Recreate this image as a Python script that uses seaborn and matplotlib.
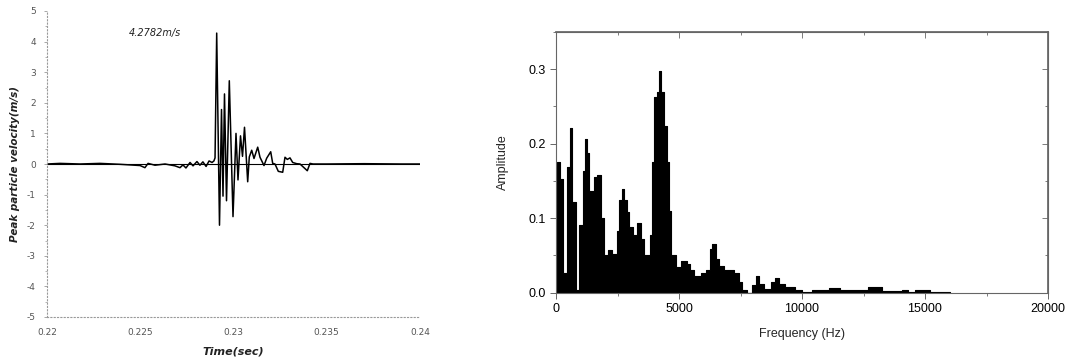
import numpy as np
import pandas as pd
import matplotlib
matplotlib.use("Agg")
import matplotlib.pyplot as plt
from matplotlib.ticker import MultipleLocator, FixedLocator
import seaborn as sns

# ---------------- data: left panel (velocity time history) ----------------
time_s = [0.22000, 0.22070, 0.22177, 0.22284, 0.22391, 0.22499, 0.22525, 0.22542,
          0.22579, 0.22633, 0.22686, 0.22713, 0.22729, 0.22745, 0.22767, 0.22783,
          0.22804, 0.22820, 0.22836, 0.22853, 0.22869, 0.22885, 0.22895, 0.22901,
          0.229099, 0.229249, 0.229357, 0.229437, 0.229517, 0.229625, 0.229775,
          0.229973, 0.230134, 0.230241, 0.230375, 0.230483, 0.230590, 0.230761,
          0.230847, 0.230976, 0.231099, 0.231298, 0.231421, 0.231635, 0.231780,
          0.231995, 0.232102, 0.232225, 0.232402, 0.232638, 0.232761, 0.232885,
          0.233029, 0.233174, 0.233389, 0.233566, 0.233834, 0.233957, 0.234102,
          0.234263, 0.23500, 0.23700, 0.23900, 0.24000]
velocity = [0.00, 0.02, 0.00, 0.02, -0.01, -0.05, -0.12, 0.02,
            -0.04, 0.00, -0.06, -0.12, -0.03, -0.13, 0.05, -0.06,
            0.08, -0.04, 0.07, -0.08, 0.10, 0.05, 0.10, 0.20,
            4.2782, -2.00, 1.78, -1.05, 2.29, -1.20, 2.72,
            -1.72, 1.00, -0.52, 0.92, 0.25, 1.20, -0.58,
            0.23, 0.45, 0.18, 0.55, 0.22, -0.05, 0.19,
            0.40, 0.02, 0.00, -0.24, -0.27, 0.22, 0.15,
            0.20, 0.05, 0.01, 0.00, -0.15, -0.22, 0.02,
            0.00, 0.00, 0.01, 0.00, 0.00]
peak_label = "4.2782m/s"
x_ticks_left = [0.22, 0.225, 0.23, 0.235, 0.24]
x_tick_labels_left = ["0.22", "0.225", "0.23", "0.235", "0.24"]
y_ticks_left = [-5, -4, -3, -2, -1, 0, 1, 2, 3, 4, 5]

# ---------------- data: right panel (amplitude spectrum) ----------------
freq_edges = [0, 54, 163, 299, 435, 571, 666, 816, 952, 1088, 1183, 1251, 1346,
              1550, 1659, 1822, 1958, 2094, 2271, 2475, 2543, 2679, 2774, 2883,
              2978, 3114, 3291, 3454, 3563, 3808, 3903, 3998, 4107, 4175, 4270,
              4379, 4515, 4610, 4692, 4896, 5086, 5331, 5467, 5603, 5875, 6079,
              6256, 6351, 6487, 6623, 6827, 7235, 7439, 7575, 7779, 7983, 8119,
              8255, 8459, 8731, 8913, 9049, 9320, 9727, 10000, 10400, 11100,
              11550, 12700, 13250, 14050, 14300, 14600, 15200, 16000]
amplitude = [0.120, 0.176, 0.153, 0.027, 0.169, 0.221, 0.122, 0.003, 0.091,
             0.163, 0.206, 0.188, 0.136, 0.156, 0.158, 0.100, 0.050, 0.057,
             0.052, 0.083, 0.124, 0.139, 0.125, 0.109, 0.088, 0.077, 0.093,
             0.072, 0.050, 0.077, 0.175, 0.263, 0.270, 0.297, 0.270, 0.224,
             0.176, 0.110, 0.050, 0.035, 0.042, 0.038, 0.030, 0.022, 0.027,
             0.030, 0.058, 0.065, 0.045, 0.036, 0.030, 0.027, 0.015, 0.003,
             0.000, 0.010, 0.022, 0.012, 0.005, 0.015, 0.020, 0.012, 0.007,
             0.004, 0.001, 0.003, 0.006, 0.004, 0.007, 0.002, 0.003, 0.001,
             0.003, 0.001]
x_ticks_right = [0, 5000, 10000, 15000, 20000]
y_ticks_right = [0.0, 0.1, 0.2, 0.3]

# ---------------- figure ----------------
sns.set_theme(style="ticks")
plt.rcParams['font.family'] = ['DejaVu Sans']

fig = plt.figure(figsize=(10.72, 3.6), dpi=100)
ax1 = fig.add_axes([47 / 1072, 1 - 317 / 360, (420 - 47) / 1072, (317 - 11) / 360])
ax2 = fig.add_axes([556 / 1072, 1 - 292.7 / 360, (1048 - 556) / 1072, (292.7 - 32) / 360])

# ----- left panel -----
df_v = pd.DataFrame({"t": time_s, "v": velocity})
ax1.axhline(0, color="black", lw=0.8, zorder=1)
sns.lineplot(data=df_v, x="t", y="v", color="black", lw=1.1, ax=ax1, zorder=2)
ax1.set_xlim(0.22, 0.24)
ax1.set_ylim(-5, 5)
ax1.set_xticks(x_ticks_left)
ax1.set_xticklabels(x_tick_labels_left)
ax1.set_yticks(y_ticks_left)
ax1.set_yticklabels([str(v) for v in y_ticks_left])
ax1.yaxis.set_minor_locator(MultipleLocator(0.5))
for s in ["top", "right"]:
    ax1.spines[s].set_visible(False)
for s in ["left", "bottom"]:
    ax1.spines[s].set_linestyle((0, (1, 2)))
    ax1.spines[s].set_color("#999999")
    ax1.spines[s].set_linewidth(0.8)
ax1.tick_params(axis="both", which="major", labelsize=6.5, labelcolor="#555555",
                color="#999999", length=2, width=0.6, pad=6)
ax1.tick_params(axis="y", which="minor", color="#999999", length=1.5, width=0.5)
ax1.tick_params(axis="x", which="major", length=0, pad=8)
ax1.set_xlabel("Time(sec)", fontsize=8, fontstyle="italic", fontweight="bold",
               color="#222222", labelpad=7)
ax1.set_ylabel("Peak particle velocity(m/s)", fontsize=7.5, fontstyle="italic",
               fontweight="bold", color="#222222", labelpad=5)
ax1.text(0.2244, 4.28, peak_label, fontsize=7, fontstyle="italic",
         color="#222222", va="center", ha="left")

# ----- right panel -----
centers = [(freq_edges[i] + freq_edges[i + 1]) / 2 for i in range(len(amplitude))]
df_a = pd.DataFrame({"f": centers, "a": amplitude})
sns.histplot(data=df_a, x="f", weights="a", bins=freq_edges, element="step",
             fill=True, color="black", alpha=1.0, edgecolor="black",
             linewidth=0.8, ax=ax2)
ax2.set_xlim(0, 20000)
ax2.set_ylim(0, 0.35)
ax2.set_xticks(x_ticks_right)
ax2.set_xticklabels([str(v) for v in x_ticks_right])
ax2.set_yticks(y_ticks_right)
ax2.set_yticklabels([f"{v:.1f}" for v in y_ticks_right])
ax2.xaxis.set_minor_locator(MultipleLocator(2500))
ax2.yaxis.set_minor_locator(MultipleLocator(0.05))
for s in ax2.spines.values():
    s.set_color("#666666")
    s.set_linewidth(0.8)
ax2.tick_params(axis="both", which="major", labelsize=9, labelcolor="black",
                color="#666666", length=4, width=0.7, direction="out")
ax2.tick_params(axis="both", which="minor", color="#666666", length=2.5,
                width=0.6, direction="out")
sec_x = ax2.secondary_xaxis("top")
sec_x.set_xticks(x_ticks_right)
sec_x.xaxis.set_minor_locator(MultipleLocator(2500))
sec_x.tick_params(which="both", direction="in", labeltop=False, color="#666666",
                  width=0.6)
sec_x.tick_params(which="major", length=4)
sec_x.tick_params(which="minor", length=2.5)
sec_x.spines["top"].set_color("#666666")
sec_y = ax2.secondary_yaxis("right")
sec_y.set_yticks(y_ticks_right)
sec_y.yaxis.set_minor_locator(MultipleLocator(0.05))
sec_y.tick_params(which="both", direction="in", labelright=False, color="#666666",
                  width=0.6)
sec_y.tick_params(which="major", length=4)
sec_y.tick_params(which="minor", length=2.5)
sec_y.spines["right"].set_color("#666666")
ax2.set_xlabel("Frequency (Hz)", fontsize=9, labelpad=9)
ax2.set_ylabel("Amplitude", fontsize=9, labelpad=14)
for lab in ax2.get_xticklabels() + ax2.get_yticklabels():
    lab.set_family(["Liberation Sans", "DejaVu Sans"])
ax2.xaxis.label.set_family(["Liberation Sans", "DejaVu Sans"])
ax2.yaxis.label.set_family(["Liberation Sans", "DejaVu Sans"])

fig.savefig("out.png", dpi=100)
